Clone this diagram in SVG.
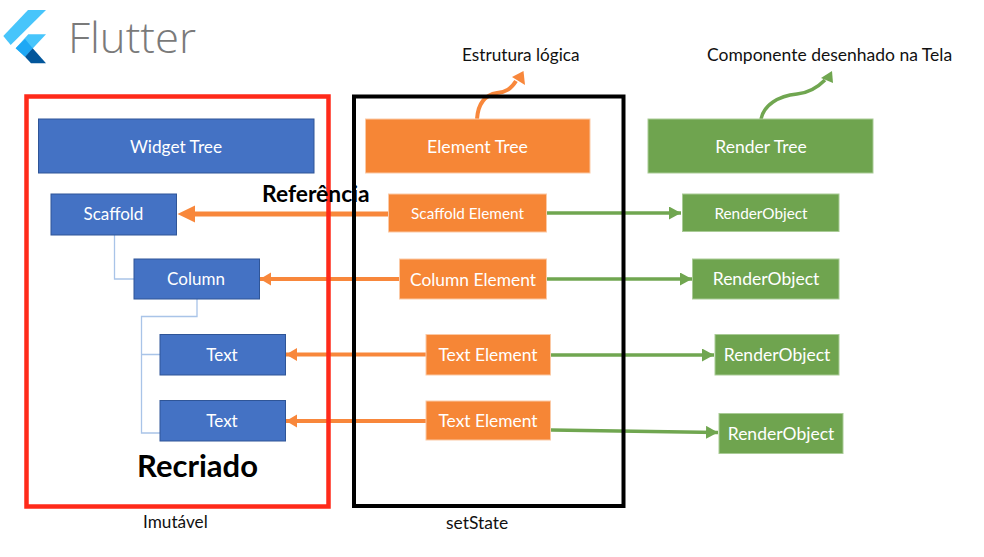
<svg xmlns="http://www.w3.org/2000/svg" width="984" height="557" viewBox="0 0 984 557">
<style>
text{font-family:Lato,"Open Sans","Liberation Sans",sans-serif}
.lbl{fill:#fff;text-anchor:middle}
.cap{fill:#111}
.blue{fill:#4472c4;stroke:#2f5597;stroke-width:1}
.org{fill:#f68636;stroke:#fbc9a5;stroke-width:1}
.grn{fill:#6fa44f;stroke:#a9cb96;stroke-width:1}
.tree{fill:none;stroke:#a9c4e8;stroke-width:1.3}
.oa{fill:none;stroke:#f8873b}
.ga{fill:none;stroke:#70a650}
.frame{fill:none}
</style>
<defs>
<marker id="ah-o" markerUnits="userSpaceOnUse" markerWidth="12" markerHeight="14" refX="11" refY="6.5" orient="auto"><path d="M0 0L11 6.5L0 13z" fill="#f8873b"/></marker>
<marker id="ah-g" markerUnits="userSpaceOnUse" markerWidth="13" markerHeight="14" refX="12" refY="6.5" orient="auto"><path d="M0 0L12 6.5L0 13z" fill="#70a650"/></marker>
</defs>
<g id="logo">
<polygon points="3.3,36 28,10 46,10 10.7,45" fill="#47c5fb"/>
<polygon points="15.7,48.3 28.3,34.3 46,34.3 25,56.7" fill="#47c5fb"/>
<polygon points="15.7,48.3 25,39 32.7,48.3 25,56.7" fill="#1ea8f5"/>
<polygon points="25,56.7 32.7,48.3 46,63.3 31,63.3" fill="#02569b"/>
<text x="68" y="53" font-size="43" font-weight="300" fill="#7a7a7a" style="font-family:'Open Sans',sans-serif" textLength="128" lengthAdjust="spacingAndGlyphs">Flutter</text>
</g>
<g id="connectors">
<path class="tree" d="M114.5 235V279H134M197 299V316.5H141.5V433H160M141.5 354.5H160"/>
<path class="oa" stroke-width="5" d="M389 214H195"/><path d="M177.5 214L195 205.500V222.500z" fill="#f8873b"/>
<path class="oa" stroke-width="4" d="M400 279H260" marker-end="url(#ah-o)"/>
<path class="oa" stroke-width="4" d="M426 354.500H286" marker-end="url(#ah-o)"/>
<path class="oa" stroke-width="4" d="M426 421H286" marker-end="url(#ah-o)"/>
<path class="ga" stroke-width="3.500" d="M547 213H681" marker-end="url(#ah-g)"/>
<path class="ga" stroke-width="3.500" d="M547 279H692" marker-end="url(#ah-g)"/>
<path class="ga" stroke-width="3.500" d="M551 355H714" marker-end="url(#ah-g)"/>
<path class="ga" stroke-width="3.500" d="M551 430L718 432.500" marker-end="url(#ah-g)"/>
<path class="oa" stroke-width="4" d="M477 119C478 105 484 95 497 93C506 92 511 89 516 81"/><path d="M523.500 71L512 77L525 85z" fill="#f8873b"/>
<path class="ga" stroke-width="3.500" d="M761 119C764 105 778 96 797 94C808 93 817 88 825 80"/><path d="M832 71L821 78L833 83z" fill="#70a650"/>
</g>
<g id="frame-imutavel"><rect class="frame" x="26.500" y="96.500" width="302" height="410" stroke="#ff2a1a" stroke-width="4.500"/><text class="cap" x="143" y="528" font-size="17.200">Imutável</text></g>
<g id="frame-setstate"><rect class="frame" x="354" y="96.500" width="269.500" height="409.500" stroke="#000" stroke-width="4"/><text class="cap" x="446" y="529" font-size="17.400">setState</text></g>
<g id="widget-tree"><rect class="blue" x="38.500" y="119" width="275.500" height="54"/><text class="lbl" x="176" y="153" font-size="17.300">Widget Tree</text></g>
<g id="scaffold"><rect class="blue" x="51" y="194" width="125.500" height="41"/><text class="lbl" x="113.500" y="220" font-size="17">Scaffold</text></g>
<g id="column"><rect class="blue" x="134" y="259" width="125.500" height="40"/><text class="lbl" x="196" y="285" font-size="17">Column</text></g>
<g id="text-1"><rect class="blue" x="160" y="334.500" width="125.500" height="40.500"/><text class="lbl" x="222" y="361" font-size="17">Text</text></g>
<g id="text-2"><rect class="blue" x="160" y="400.500" width="125.500" height="40.500"/><text class="lbl" x="222" y="427" font-size="17">Text</text></g>
<g id="element-tree"><rect class="org" x="365.500" y="119" width="224.500" height="54"/><text class="lbl" x="477.500" y="153" font-size="17.700">Element Tree</text></g>
<g id="scaffold-element"><rect class="org" x="388.500" y="194" width="158" height="38"/><text class="lbl" x="467.500" y="219" font-size="15.300">Scaffold Element</text></g>
<g id="column-element"><rect class="org" x="399.500" y="259" width="147" height="40"/><text class="lbl" x="473" y="286" font-size="17.400">Column Element</text></g>
<g id="text-element-1"><rect class="org" x="426" y="334.500" width="124.500" height="40.500"/><text class="lbl" x="488" y="361" font-size="17.400">Text Element</text></g>
<g id="text-element-2"><rect class="org" x="426" y="401" width="124.500" height="39"/><text class="lbl" x="488" y="427" font-size="17.400">Text Element</text></g>
<g id="render-tree"><rect class="grn" x="648" y="119" width="225" height="54"/><text class="lbl" x="761" y="153" font-size="17.500">Render Tree</text></g>
<g id="render-object-1"><rect class="grn" x="682.500" y="194" width="156.500" height="37.500"/><text class="lbl" x="761" y="219" font-size="15.300">RenderObject</text></g>
<g id="render-object-2"><rect class="grn" x="692.500" y="259" width="146.500" height="40"/><text class="lbl" x="766" y="285" font-size="17.500">RenderObject</text></g>
<g id="render-object-3"><rect class="grn" x="715" y="334.500" width="124" height="40.500"/><text class="lbl" x="777" y="361" font-size="17.500">RenderObject</text></g>
<g id="render-object-4"><rect class="grn" x="719" y="413.500" width="124" height="40"/><text class="lbl" x="781" y="440" font-size="17.500">RenderObject</text></g>
<g id="annotations">
<text class="cap" x="462" y="61" font-size="17.200">Estrutura lógica</text>
<text class="cap" x="707" y="61" font-size="17.500">Componente desenhado na Tela</text>
<text x="262" y="202" font-size="22.800" font-weight="700" fill="#000">Referência</text>
<text x="137" y="477" font-size="31" font-weight="700" fill="#000">Recriado</text>
</g>
</svg>
